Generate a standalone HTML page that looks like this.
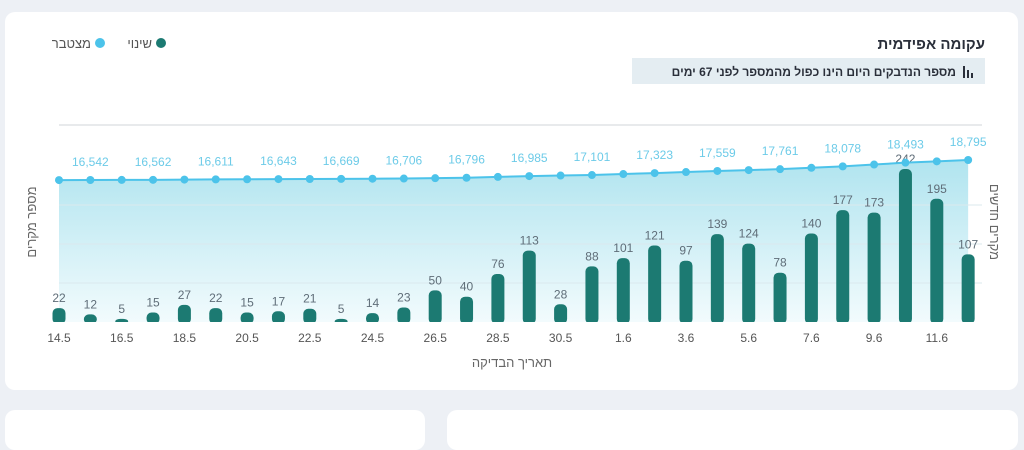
<!DOCTYPE html>
<html><head><meta charset="utf-8"><style>
body{margin:0;width:1024px;height:424px;background:#edf0f5;overflow:hidden;font-family:"Liberation Sans","Noto Sans CJK SC",sans-serif}
.card{position:absolute;background:#fff;border-radius:10px}
</style></head><body>
<div class="card" style="left:5px;top:12px;width:1013px;height:378px"></div>
<div class="card" style="left:5px;top:410px;width:420px;height:40px"></div>
<div class="card" style="left:447px;top:410px;width:571px;height:40px"></div>
<svg id="s" width="1024" height="424" style="position:absolute;left:0;top:0" font-family="Liberation Sans, Noto Sans CJK SC, sans-serif">
<defs><linearGradient id="g" x1="0" y1="0" x2="0" y2="1"><stop offset="0" stop-color="#b0e4ef"/><stop offset="1" stop-color="#f2fbfd"/></linearGradient></defs>
<text x="985" y="49" text-anchor="end" font-size="15" font-weight="bold" fill="#2a2f3a">עקומה אפידמית</text>
<rect x="632" y="58" width="353" height="26" fill="#e4edf2"/>
<text x="956" y="76" text-anchor="end" font-size="12" font-weight="bold" fill="#2a2f3a">מספר הנדבקים היום הינו כפול מהמספר לפני 67 ימים</text>
<rect x="963" y="66" width="2" height="12" fill="#2a2f3a"/><rect x="967" y="70" width="2" height="8" fill="#2a2f3a"/><rect x="971" y="73" width="2" height="5" fill="#2a2f3a"/>
<circle cx="161" cy="43" r="5" fill="#1c7a72"/><text x="152" y="48" text-anchor="end" font-size="13" fill="#555">שינוי</text>
<circle cx="100" cy="43" r="5" fill="#4cc3ea"/><text x="91" y="48" text-anchor="end" font-size="13" fill="#555">מצטבר</text>
<line x1="59" y1="125" x2="982" y2="125" stroke="#d0d4d8"/>
<text transform="translate(36,222) rotate(-90)" text-anchor="middle" font-size="13" fill="#666">מספר מקרים</text>
<text transform="translate(990,222) rotate(90)" text-anchor="middle" font-size="13" fill="#666">מקרים חדשים</text>
<text x="512" y="367" text-anchor="middle" font-size="13" fill="#666">תאריך הבדיקה</text>
</svg>
<script>
var s=document.getElementById('s'),ns='http://www.w3.org/2000/svg';
function el(t,a,txt){var e=document.createElementNS(ns,t);for(var k in a)e.setAttribute(k,a[k]);if(txt!=null)e.textContent=txt;s.appendChild(e);return e;}
var bars=[22,12,5,15,27,22,15,17,21,5,14,23,50,40,76,113,28,88,101,121,97,139,124,78,140,177,173,242,195,107];
var lab=[16542,16562,16611,16643,16669,16706,16796,16985,17101,17323,17559,17761,18078,18493,18795];
var dates=['14.5','16.5','18.5','20.5','22.5','24.5','26.5','28.5','30.5','1.6','3.6','5.6','7.6','9.6','11.6'];
var cum=[];for(var i=0;i<30;i++){if(i%2==1)cum[i]=lab[(i-1)/2];}
cum[0]=16530;for(i=2;i<30;i+=2)cum[i]=(cum[i-1]+cum[i+1])/2;
function X(i){return 59+i*31.35;}function Y(v){return 180-(v-16542)*20/2253;}
var base=322,k=0.632;
var d='M'+X(0)+','+base;for(i=0;i<30;i++)d+=' L'+X(i)+','+Y(cum[i]);d+=' L'+X(29)+','+base+'Z';
el('path',{d:d,fill:'url(#g)'});
[205,244,283].forEach(function(y){el('line',{x1:59,x2:982,y1:y,y2:y,stroke:'#dbe9ee'});});
for(i=0;i<30;i++){var h=bars[i]*k,x=X(i);
el('rect',{x:x-6.5,y:base-h,width:13,height:h+2,rx:5,fill:'#1c7a72'});
el('text',{x:x,y:base-h-6,'text-anchor':'middle','font-size':12,fill:'#5f6d78'},bars[i]);}
el('rect',{x:50,y:base,width:935,height:4,fill:'#fff'});
var p='';for(i=0;i<30;i++)p+=(i?' L':'M')+X(i)+','+Y(cum[i]);
el('path',{d:p,fill:'none',stroke:'#4cc3ea','stroke-width':2});
for(i=0;i<30;i++){el('circle',{cx:X(i),cy:Y(cum[i]),r:4,fill:'#4cc3ea'});
if(i%2==1)el('text',{x:X(i),y:Y(cum[i])-14,'text-anchor':'middle','font-size':12,fill:'#6ccbe8'},cum[i].toLocaleString('en-US'));}
for(i=0;i<15;i++)el('text',{x:X(2*i),y:342,'text-anchor':'middle','font-size':12,fill:'#555'},dates[i]);
</script>
</body></html>
